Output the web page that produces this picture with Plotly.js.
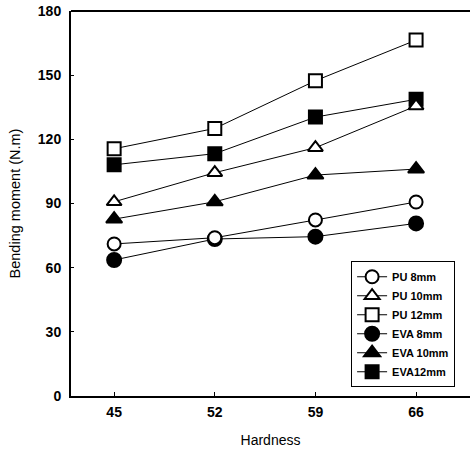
<!DOCTYPE html>
<html><head><meta charset="utf-8">
<script src="https://cdn.plot.ly/plotly-3.0.1.min.js"></script>
<style>html,body{margin:0;padding:0;background:#fff}#c{width:471px;height:451px}</style>
</head><body><div id="c"></div>
<script>
const hardness = [45, 52, 59, 66];
const pu8 = [71.1, 74.0, 82.3, 90.7];
const pu10 = [90.8, 104.4, 116.1, 135.6];
const pu12 = [115.6, 125.1, 147.4, 166.4];
const eva8 = [63.6, 73.4, 74.5, 80.7];
const eva10 = [82.7, 90.8, 103.3, 106.1];
const eva12 = [108.1, 113.3, 130.4, 138.7];
const names = ["PU 8mm", "PU 10mm", "PU 12mm", "EVA 8mm", "EVA 10mm", "EVA12mm"];
const yTicks = [0, 30, 60, 90, 120, 150, 180];

const series = [pu8, pu10, pu12, eva8, eva10, eva12];
const symbols = ["circle", "triangle-up", "square", "circle", "triangle-up", "square"];
const sizes = [13, 13, 13, 14, 14, 13];
const traces = series.map((s, i) => ({
  x: hardness, y: s, name: names[i], type: "scatter", mode: "lines+markers",
  line: {color: "#000", width: 1},
  marker: {symbol: symbols[i], size: sizes[i], color: i < 3 ? "#fff" : "#000",
           line: {color: "#000", width: 2}},
  legendrank: i
}));
const order = [3,4,5,0,1,2];
const data = order.map(i => traces[i]);

const layout = {
  width: 471, height: 451,
  margin: {l: 71, r: 1, t: 11, b: 55},
  paper_bgcolor: "#fff", plot_bgcolor: "#fff",
  font: {family: "Liberation Sans, Arial, sans-serif", color: "#000"},
  xaxis: {
    range: [42, 69.75], tickvals: hardness, ticktext: hardness.map(String),
    ticks: "inside", ticklen: 4, tickcolor: "#000", showgrid: false, zeroline: false,
    showline: true, linecolor: "#000", linewidth: 2, mirror: false,
    tickfont: {size: 14, weight: "bold"}, ticklabelstandoff: 2,
    title: {text: "Hardness", font: {size: 14}, standoff: 16}
  },
  yaxis: {
    range: [0, 180], tickvals: yTicks, ticks: "inside", ticklen: 3, tickcolor: "#000",
    showgrid: false, zeroline: false, showline: true, linecolor: "#000", linewidth: 2,
    tickfont: {size: 14, weight: "bold"}, ticklabelstandoff: 5,
    title: {text: "Bending moment (N.m)", font: {size: 14.5}, standoff: 14}
  },
  shapes: [{type: "line", xref: "paper", yref: "paper", x0: 0, x1: 1, y0: 1, y1: 1,
            line: {color: "#000", width: 2}}],
  showlegend: true,
  legend: {x: 0.702, y: 0.35, xanchor: "left", yanchor: "top",
           bordercolor: "#000", borderwidth: 1, bgcolor: "#fff",
           font: {size: 11, weight: "bold"}, traceorder: "normal", tracegroupgap: 0,
           itemwidth: 30}
};
Plotly.newPlot("c", data, layout, {displayModeBar: false, staticPlot: true});
</script></body></html>
